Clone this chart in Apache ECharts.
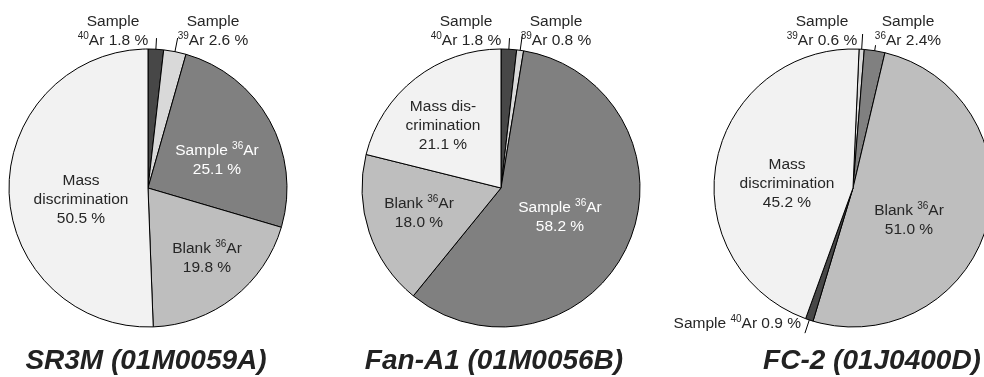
<!DOCTYPE html>
<html><head><meta charset="utf-8">
<script src="https://cdn.jsdelivr.net/npm/echarts@6/dist/echarts.min.js"></script>
<style>html,body{margin:0;padding:0;background:#fff}#c{width:984px;height:377px}</style>
</head><body><div id="c"></div>
<script>
// ---- data ----
const titles = ['SR3M (01M0059A)', 'Fan-A1 (01M0056B)', 'FC-2 (01J0400D)'];
const cats1 = ['Sample 40Ar', 'Sample 39Ar', 'Sample 36Ar', 'Blank 36Ar', 'Mass discrimination'];
const vals1 = [1.8, 2.6, 25.1, 19.8, 50.5];
const text1 = ['Sample\n{s|40}Ar 1.8 %', 'Sample\n{s|39}Ar 2.6 %', 'Sample {s|36}Ar\n25.1 %', 'Blank {s|36}Ar\n19.8 %', 'Mass\ndiscrimination\n50.5 %'];
const cats2 = ['Sample 40Ar', 'Sample 39Ar', 'Sample 36Ar', 'Blank 36Ar', 'Mass discrimination'];
const vals2 = [1.8, 0.8, 58.2, 18.0, 21.1];
const text2 = ['Sample\n{s|40}Ar 1.8 %', 'Sample\n{s|39}Ar 0.8 %', 'Sample {s|36}Ar\n58.2 %', 'Blank {s|36}Ar\n18.0 %', 'Mass dis-\ncrimination\n21.1 %'];
const cats3 = ['Sample 39Ar', 'Sample 36Ar', 'Blank 36Ar', 'Sample 40Ar', 'Mass discrimination'];
const vals3 = [0.6, 2.4, 51.0, 0.9, 45.2];
const text3 = ['Sample\n{s|39}Ar 0.6 %', 'Sample\n{s|36}Ar 2.4%', 'Blank {s|36}Ar\n51.0 %', 'Sample {s|40}Ar 0.9 %', 'Mass\ndiscrimination\n45.2 %'];

// ---- style / layout ----
const colorOf = {
  'Sample 40Ar': '#474747',
  'Sample 39Ar': '#d9d9d9',
  'Sample 36Ar': '#808080',
  'Blank 36Ar': '#bebebe',
  'Mass discrimination': '#f2f2f2'
};
const FONT = '"Liberation Sans", Arial, Helvetica, sans-serif';
const R = 139;
const pies = [
  { cats: cats1, vals: vals1, text: text1, c: [148, 188], start: 90, tx: 146,
    off: [[-35, -157], [65, -157], [69, -28], [59, 70], [-67, 12]],
    align: ['center', 'center', 'center', 'center', 'center'],
    line: [[0.73, 1.08], [0.73, 1.1], null, null, null] },
  { cats: cats2, vals: vals2, text: text2, c: [501, 188], start: 90, tx: 494,
    off: [[-35, -157], [55, -157], [59, 29], [-82, 25], [-58, -62]],
    align: ['center', 'center', 'center', 'center', 'center'],
    line: [[0.73, 1.08], [0.73, 1.12], null, null, null] },
  { cats: cats3, vals: vals3, text: text3, c: [853, 188], start: 87.5, tx: 872,
    off: [[-31, -157], [55, -157], [56, 32], [-52, 136], [-66, -4]],
    align: ['center', 'center', 'center', 'right', 'center'],
    line: [[0.73, 1.11], [0.73, 1.04], null, [0.96, 1.1], null] }
];

function midAngle(p, i) {
  const tot = p.vals.reduce((a, b) => a + b, 0);
  let cum = 0;
  for (let k = 0; k < i; k++) cum += p.vals[k];
  return (p.start - (cum + p.vals[i] / 2) / tot * 360) * Math.PI / 180;
}

const series = pies.map((p, si) => ({
  type: 'pie',
  center: p.c,
  radius: R,
  startAngle: p.start,
  clockwise: true,
  avoidLabelOverlap: false,
  animation: false,
  silent: true,
  emphasis: { disabled: true },
  itemStyle: { borderColor: '#000', borderWidth: 1 },
  label: {
    show: true,
    position: 'inside',
    fontFamily: FONT,
    fontSize: 15.5,
    lineHeight: 19,
    color: '#262626',
    rich: { s: { fontSize: 10, verticalAlign: 'top', color: '#262626', fontFamily: FONT } }
  },
  labelLine: { show: false, lineStyle: { color: '#000', width: 1 } },
  data: p.cats.map((name, i) => {
    const item = {
      name: name,
      value: p.vals[i],
      itemStyle: { color: colorOf[name] },
      label: { formatter: p.text[i] }
    };
    if (p.line[i]) {
      item.label.position = 'outside';
      item.labelLine = { show: true, length: 5, length2: 0, lineStyle: { color: '#000', width: 1 } };
    }
    if (name === 'Sample 36Ar' && !p.line[i]) {
      item.label.color = '#fff';
      item.label.rich = { s: { fontSize: 10, verticalAlign: 'top', color: '#fff', fontFamily: FONT } };
    }
    return item;
  }),
  labelLayout: function (params) {
    const i = params.dataIndex;
    const o = p.off[i];
    const res = {
      x: p.c[0] + o[0],
      y: p.c[1] + o[1],
      align: p.align[i],
      verticalAlign: 'middle'
    };
    if (p.line[i]) {
      const a = midAngle(p, i);
      const r0 = p.line[i][0] * R, r1 = p.line[i][1] * R;
      res.labelLinePoints = [
        [p.c[0] + r0 * Math.cos(a), p.c[1] - r0 * Math.sin(a)],
        [p.c[0] + r1 * Math.cos(a), p.c[1] - r1 * Math.sin(a)]
      ];
    }
    return res;
  }
}));

const chart = echarts.init(document.getElementById('c'), null, { renderer: 'canvas' });
chart.setOption({
  backgroundColor: '#fff',
  animation: false,
  graphic: pies.map((p, si) => ({
    type: 'text',
    x: p.tx,
    y: 361,
    style: {
      text: titles[si],
      font: 'italic bold 28px "Liberation Sans", Arial, sans-serif',
      fill: '#222',
      textAlign: 'center',
      textVerticalAlign: 'middle'
    }
  })),
  series: series
});
</script>
</body></html>
